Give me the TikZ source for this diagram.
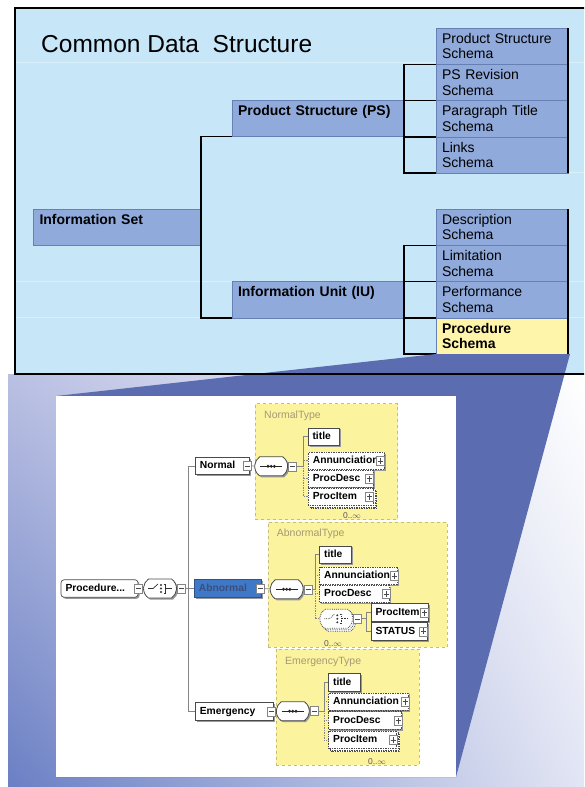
\documentclass[tikz,border=0pt]{standalone}
\usepackage{fontspec}
\setmainfont{Liberation Sans}
\usetikzlibrary{positioning,shadows,shadings,shapes.misc}

\definecolor{cdsbg}{HTML}{C7E7F9}
\definecolor{cdsrow}{HTML}{DAF0FB}
\definecolor{cdsfill}{HTML}{8FAADB}
\definecolor{cdsedge}{HTML}{6780B4}
\definecolor{cdsyellow}{HTML}{FFF5AA}
\definecolor{wedgeblue}{HTML}{5B6DB0}
\definecolor{bglav}{HTML}{BAC0E3}
\definecolor{bgblue}{HTML}{6A7FC4}
\definecolor{bgright}{HTML}{E2E5F4}
\definecolor{typeyellow}{HTML}{FCF39E}
\definecolor{typeedge}{HTML}{C4BB88}
\definecolor{typetext}{HTML}{A39A76}
\definecolor{xsdline}{HTML}{858585}
\definecolor{xsdedge}{HTML}{4A4A4A}
\definecolor{abnfill}{HTML}{3F78C7}
\definecolor{abntext}{HTML}{3A4F7E}

\tikzset{
  cdsbox/.style={draw=cdsedge, fill=cdsfill, anchor=north west, inner xsep=6pt, inner ysep=2pt, outer sep=0pt, align=left},
  schemabox/.style={cdsbox, text width=120pt, minimum height=36.25pt, font=\fontsize{14}{15.5}\selectfont},
  groupbox/.style={cdsbox, text height=13pt, text depth=19.25pt, font=\fontsize{14}{15.5}\selectfont\bfseries},
  bracket/.style={line width=1.5pt},
  typebox/.style={draw=typeedge, dashed, fill=typeyellow, anchor=north west, inner sep=0pt},
  typename/.style={anchor=base west, text=typetext, font=\fontsize{10.5}{12}\selectfont},
  occurs/.style={text=black!65, font=\fontsize{8.5}{10}\selectfont, inner sep=0pt},
  xsdshadow/.style={drop shadow={shadow xshift=1.5pt, shadow yshift=-1.5pt, fill=black!40, opacity=1}},
  elem/.style={draw=xsdedge, line width=0.7pt, fill=white, anchor=west, inner xsep=4.5pt, inner ysep=0pt, minimum height=17.5pt, text height=7.6pt, text depth=2pt, align=left, font=\fontsize{10.3}{12}\selectfont\bfseries, xsdshadow},
  optelem/.style={elem, densely dotted},
  multielem/.style={draw=xsdedge, line width=0.7pt, densely dotted, fill=white, anchor=west, inner xsep=4.5pt, inner ysep=0pt, minimum height=17.5pt, text height=7.6pt, text depth=2pt, align=left, font=\fontsize{10.3}{12}\selectfont\bfseries, double copy shadow={shadow xshift=1.5pt, shadow yshift=-1.5pt}},
  comp/.style={rounded rectangle, rounded rectangle arc length=110, draw=xsdedge, line width=0.8pt, fill=white, minimum width=33pt, minimum height=19pt, inner sep=0pt, xsdshadow},
  seqcomp/.style={comp, path picture={
      \begin{scope}[shift={(path picture bounding box.center)}, black!85]
        \draw[line width=0.7pt] (-11,0) -- (11,0);
        \fill (-3.2,0) circle (1.6) (0,0) circle (1.6) (3.2,0) circle (1.6);
      \end{scope}}},
  choicecomp/.style={comp, path picture={
      \begin{scope}[shift={(path picture bounding box.center)}, black!80, line width=0.7pt]
        \draw (-12,0) -- (-7,0) -- (-2,-4.5);
        \fill (1,-3.5) circle (1.1) (1,0) circle (1.1) (1,3.5) circle (1.1);
        \draw (3.5,-4.5) -- (5.5,-4.5) -- (5.5,4.5) -- (3.5,4.5) (5.5,0) -- (12,0);
      \end{scope}}},
  minusbox/.style={draw=xsdline, line width=0.6pt, fill=white, minimum width=8pt, minimum height=9pt, inner sep=0pt, path picture={
      \draw[xsdedge] ([xshift=1.5pt]path picture bounding box.west) -- ([xshift=-1.5pt]path picture bounding box.east);}},
  plusbox/.style={minusbox, path picture={
      \draw[xsdedge] ([xshift=1.5pt]path picture bounding box.west) -- ([xshift=-1.5pt]path picture bounding box.east)
        ([yshift=-1.5pt]path picture bounding box.north) -- ([yshift=1.5pt]path picture bounding box.south);}}
}

\begin{document}
\begin{tikzpicture}[x=1pt,y=-1pt]
  \useasboundingbox (0,0) rectangle (584,787);
  \clip (0,0) rectangle (584,787);
  \shade[upper left=bglav, lower left=bgblue, upper right=white, lower right=bgright] (8,374) rectangle (584,787);
  \fill[cdsbg] (15,8) rectangle (600,374);
  \draw[cdsrow, line width=1pt]
    (15,62) -- (600,62)
    (568,172) -- (600,172)
    (15,281.5) -- (600,281.5)
    (15,317.75) -- (600,317.75);

  \node[anchor=base west, inner sep=0pt, font=\fontsize{24.5}{28}\selectfont] (cds) at (41,52) {Common Data\ \ Structure};

  \node[schemabox] (psschema) at (436,28) {Product Structure\\Schema};
  \node[schemabox, below=0pt of psschema] (psrev) {PS Revision\\Schema};
  \node[schemabox, below=0pt of psrev] (pstitle) {Paragraph Title\\Schema};
  \node[schemabox, below=0pt of pstitle] (links) {Links\\Schema};
  \node[schemabox] (desc) at (436,209) {Description\\Schema};
  \node[schemabox, below=0pt of desc] (limit) {Limitation\\Schema};
  \node[schemabox, below=0pt of limit] (perf) {Performance\\Schema};
  \node[schemabox, below=0pt of perf, fill=cdsyellow, font=\fontsize{14}{15.5}\selectfont\bfseries] (procschema) {Procedure\\Schema};

  \node[groupbox, text width=160pt] (psbox) at (232,100) {Product Structure (PS)};
  \node[groupbox, text width=155.5pt] (infoset) at (33.5,209) {Information Set};
  \node[groupbox, text width=160pt] (iubox) at (232,281.5) {Information Unit (IU)};

  \begin{scope}[bracket]
    \draw (psbox.south west) -- ++(-31,0) |- (iubox.south west);
    \draw (psrev.north west) -- ++(-32,0) |- (links.south west);
    \draw (pstitle.north west) -- ++(-32,0);
    \draw (links.north west) -- ++(-32,0);
    \draw (limit.north west) -- ++(-32,0) |- (procschema.south west);
    \draw (perf.north west) -- ++(-32,0);
    \draw (procschema.north west) -- ++(-32,0);
    \draw (psschema.north east) -- (links.south east);
    \draw (desc.north east) -- (procschema.south east);
  \end{scope}

  \coordinate (panelnw) at (56,396);
  \coordinate (panelse) at (456,777);
  \fill[wedgeblue] (procschema.south west) -- ([xshift=2pt]procschema.south east) -- (panelse) -- (panelnw |- panelse) -- (panelnw) -- cycle;
  \draw[line width=1.4pt] (600,8) -- (15,8) -- (15,374) -- (600,374);
  \fill[white] (panelnw) rectangle (panelse);

  \node[typebox, minimum width=142.3pt, minimum height=116pt] (normaltype) at (255,403.3) {};
  \node[typebox, minimum width=179.3pt, minimum height=125.3pt] (abnormaltype) at (267.7,521.7) {};
  \node[typebox, minimum width=142.8pt, minimum height=116.2pt] (emergtype) at (276.2,648.8) {};
  \node[typename] (normaltypename) at (260.7,418.5) {NormalType};
  \node[typename] (abnormaltypename) at (273.3,536.8) {AbnormalType};
  \node[typename] (emergtypename) at (281.7,664.2) {EmergencyType};

  \node[elem, text width=68pt, rounded corners=3pt] (procedure) at (60.7,588.5) {Procedure...};
  \node[choicecomp] (pchoice) at (160,588.5) {};
  \node[elem, text width=45pt] (normal) at (195,466) {Normal};
  \node[elem, text width=58pt, fill=abnfill, draw=abnfill!70!black, text=abntext] (abn) at (194,588.5) {Abnormal};
  \node[elem, text width=69pt] (emerg) at (195,711.5) {Emergency};
  \node[seqcomp] (nseq) at (271.2,466.3) {};
  \node[seqcomp] (aseq) at (286.7,589.3) {};
  \node[seqcomp] (eseq) at (292.8,711.2) {};

  \node[elem, text width=22pt] (ntitle) at (307.7,436.7) {title};
  \node[optelem, text width=67pt] (nann) at (308,460.8) {Annunciation};
  \node[optelem, text width=56pt] (ndesc) at (308,478.7) {ProcDesc};
  \node[multielem, text width=56pt] (nitem) at (308,496.7) {ProcItem};
  \node[occurs] (nocc) at (352,516) {0..$\infty$};

  \node[elem, text width=23pt] (atitle) at (319.3,554.7) {title};
  \node[optelem, text width=69pt] (aann) at (319.3,575.8) {Annunciation};
  \node[optelem, text width=61pt] (adesc) at (319.3,593.8) {ProcDesc};
  \node[choicecomp, densely dotted, double copy shadow={shadow xshift=1.5pt, shadow yshift=-1.5pt}] (achoice) at (336.3,618.8) {};
  \node[elem, text width=48pt] (aitem) at (370.7,612.5) {ProcItem};
  \node[elem, text width=47pt] (astatus) at (370.7,631.3) {STATUS};
  \node[occurs] (aocc) at (333,643.3) {0..$\infty$};

  \node[elem, text width=23pt] (etitle) at (328.3,682.3) {title};
  \node[optelem, text width=71pt] (eann) at (328.3,701.7) {Annunciation};
  \node[optelem, text width=64pt] (edesc) at (328.3,720.5) {ProcDesc};
  \node[multielem, text width=59pt] (eitem) at (328.3,740) {ProcItem};
  \node[occurs] (eocc) at (377,761.7) {0..$\infty$};

  \node[minusbox] (procm) at (procedure.east) {};
  \node[minusbox] (pchoicem) at ([xshift=4.5pt]pchoice.east) {};
  \node[minusbox] (normalm) at ([xshift=-2pt]normal.east) {};
  \node[minusbox] (abnm) at ([xshift=-1pt]abn.east) {};
  \node[minusbox] (emergm) at ([xshift=-2pt]emerg.east) {};
  \node[minusbox] (nseqm) at ([xshift=4.5pt]nseq.east) {};
  \node[minusbox] (aseqm) at ([xshift=4.5pt]aseq.east) {};
  \node[minusbox] (eseqm) at ([xshift=4.5pt]eseq.east) {};
  \node[minusbox] (achoicem) at ([xshift=4.5pt]achoice.east) {};
  \foreach \n in {nann,ndesc,nitem,aann,adesc,aitem,astatus,eann,edesc,eitem}
    \node[plusbox] (\n plus) at ([xshift=-4pt]\n.east) {};

  \begin{scope}[xsdline, line width=0.7pt]
    \draw (procm) to (pchoice);
    \draw (pchoicem) to (abn);
    \draw (normal.west) -- ++(-6.7,0) |- (emerg.west);
    \draw (normalm) to (nseq);
    \draw (abnm) to (aseq);
    \draw (emergm) to (eseq);
    \draw (nseqm.east) -- ([xshift=-4pt]nseqm.east -| ntitle.west) |- (ntitle.west);
    \draw (aseqm.east) -- ([xshift=-4pt]aseqm.east -| atitle.west) |- (atitle.west);
    \draw (eseqm.east) -- ([xshift=-4pt]eseqm.east -| etitle.west) |- (etitle.west);
    \draw (achoicem.east) -- ([xshift=-4pt]achoicem.east -| aitem.west);
    \draw (aitem.west) -- ++(-4,0) |- (astatus.west);
  \end{scope}
  \begin{scope}[xsdline, line width=0.7pt, densely dotted]
    \draw ([xshift=-4pt]nseqm.east -| ntitle.west) |- (nitem.west);
    \draw ([xshift=-4pt]nann.west) to (nann.west);
    \draw ([xshift=-4pt]ndesc.west) to (ndesc.west);
    \draw ([xshift=-4pt]aseqm.east -| atitle.west) |- (achoice.west);
    \draw ([xshift=-4pt]aann.west) to (aann.west);
    \draw ([xshift=-4pt]adesc.west) to (adesc.west);
    \draw ([xshift=-4pt]eseqm.east -| etitle.west) |- (eitem.west);
    \draw ([xshift=-4pt]eann.west) to (eann.west);
    \draw ([xshift=-4pt]edesc.west) to (edesc.west);
  \end{scope}
\end{tikzpicture}
\end{document}
